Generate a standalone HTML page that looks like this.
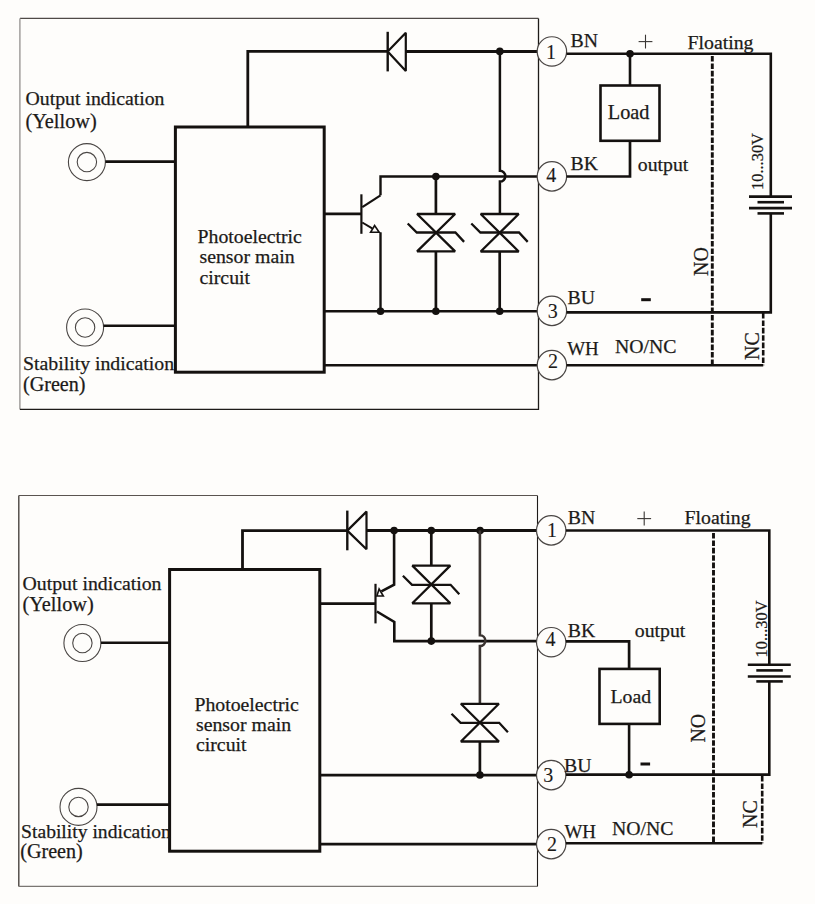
<!DOCTYPE html>
<html><head><meta charset="utf-8"><style>
html,body{margin:0;padding:0;background:#fefdfb;}
svg{display:block;}
text{font-family:"Liberation Serif",serif;fill:#1c1a18;stroke:#1c1a18;stroke-width:0.25px;}
</style></head><body>
<svg width="815" height="904" viewBox="0 0 815 904">
<rect width="815" height="904" fill="#fefdfb"/>
<path d="M19.9,18.4 L538.5,18.4" stroke="#4f4a47" stroke-width="1.2" fill="none" />
<path d="M19.9,18.4 L19.9,409.3" stroke="#9a9896" stroke-width="1.4" fill="none" />
<path d="M19.9,409.3 L538.5,409.3 L538.5,18.4" stroke="#1e1b19" stroke-width="1.3" fill="none" />
<rect x="175.4" y="127" width="148.8" height="245.2" stroke="#14110f" stroke-width="3" fill="none"/>
<path d="M247.8,127 L247.8,51.4 L387.7,51.4" stroke="#14110f" stroke-width="2.8" fill="none" />
<path d="M405.8,51.4 L537.5,51.4" stroke="#14110f" stroke-width="3" fill="none" />
<path d="M387.7,31.8 L387.7,71.4" stroke="#14110f" stroke-width="2.4" fill="none" />
<path d="M405.8,32.8 L387.7,51.4 L405.8,71 Z" stroke="#14110f" stroke-width="2.2" fill="none" stroke-linejoin="bevel"/>
<circle cx="499.8" cy="51.4" r="3.8" fill="#14110f"/>
<path d="M499.9,51.4 V170.8 A5.4,5.4 0 0 1 499.9,181.6 V214" stroke="#14110f" stroke-width="2.5" fill="none"/>
<path d="M480.7,214 L518.7,214 L480.7,251.5 L518.7,251.5 Z" stroke="#14110f" stroke-width="2.3" fill="none" stroke-linejoin="bevel"/>
<path d="M471.3,223.5 L480.4,232.5 L519.0,232.5 L527.7,241.9" stroke="#14110f" stroke-width="2.3" fill="none"/>
<path d="M499.7,251.5 L499.7,311.2" stroke="#14110f" stroke-width="2.7" fill="none" />
<circle cx="499.7" cy="311.2" r="3.8" fill="#14110f"/>
<path d="M380.5,195.3 L380.5,176.5 L537.5,176.5" stroke="#14110f" stroke-width="2.4" fill="none" />
<circle cx="435.9" cy="176.5" r="3.8" fill="#14110f"/>
<path d="M435.9,176.5 L435.9,214" stroke="#14110f" stroke-width="2.7" fill="none" />
<path d="M417.1,214 L455.1,214 L417.1,251.4 L455.1,251.4 Z" stroke="#14110f" stroke-width="2.3" fill="none" stroke-linejoin="bevel"/>
<path d="M407.70000000000005,223.5 L416.8,232.5 L455.40000000000003,232.5 L464.1,241.9" stroke="#14110f" stroke-width="2.3" fill="none"/>
<path d="M435.9,251.4 L435.9,311.2" stroke="#14110f" stroke-width="2.7" fill="none" />
<circle cx="435.9" cy="311.2" r="3.8" fill="#14110f"/>
<path d="M361.4,194.3 L361.4,233.8" stroke="#14110f" stroke-width="2.2" fill="none" />
<path d="M324.2,213.9 L361.4,213.9" stroke="#14110f" stroke-width="2.7" fill="none" />
<path d="M362.3,207.2 L380.5,195.3" stroke="#14110f" stroke-width="2.2" fill="none" />
<path d="M362.3,222.5 L372.2,228.4" stroke="#14110f" stroke-width="2.0" fill="none" />
<path d="M370.6,232.3 L379.2,232.3 L374.6,225.6 Z" stroke="#14110f" stroke-width="1.6" fill="none"/>
<path d="M380.5,232.3 L380.5,311.2" stroke="#14110f" stroke-width="2.4" fill="none" />
<circle cx="380.5" cy="311.2" r="3.8" fill="#14110f"/>
<path d="M324.2,311.2 L537.5,311.2" stroke="#14110f" stroke-width="2.6" fill="none" />
<path d="M324.2,365.2 L537.5,365.2" stroke="#14110f" stroke-width="2.6" fill="none" />
<circle cx="86.9" cy="162.1" r="18.5" stroke="#4a4644" stroke-width="1.1" fill="none"/>
<circle cx="86.9" cy="162.1" r="9.7" stroke="#4a4644" stroke-width="1.1" fill="none"/>
<path d="M105.4,161.6 L175.4,161.6" stroke="#14110f" stroke-width="2.6" fill="none" />
<circle cx="85.1" cy="327.5" r="18.5" stroke="#4a4644" stroke-width="1.1" fill="none"/>
<circle cx="85.1" cy="327.5" r="9.7" stroke="#4a4644" stroke-width="1.1" fill="none"/>
<path d="M103.6,325.7 L175.4,325.7" stroke="#14110f" stroke-width="2.6" fill="none" />
<text x="25.5" y="105" font-size="19.8" >Output indication</text>
<text x="25.5" y="127.6" font-size="20.3" >(Yellow)</text>
<text x="23" y="370" font-size="19.8" >Stability indication</text>
<text x="23" y="390.5" font-size="20.1" >(Green)</text>
<text x="197.5" y="243.1" font-size="19.8" >Photoelectric</text>
<text x="199.5" y="262.7" font-size="19.8" >sensor main</text>
<text x="199.5" y="283.9" font-size="19.8" >circuit</text>
<circle cx="551.9" cy="51.45" r="14.7" stroke="#4a4644" stroke-width="1.2" fill="#fefdfb"/>
<text x="551.1" y="58.6" font-size="20" text-anchor="middle" style="stroke-width:0.1px">1</text>
<circle cx="551.9" cy="176.4" r="14.7" stroke="#4a4644" stroke-width="1.2" fill="#fefdfb"/>
<text x="551.35" y="181.5" font-size="20" text-anchor="middle" style="stroke-width:0.1px">4</text>
<circle cx="551.9" cy="310.9" r="14.7" stroke="#4a4644" stroke-width="1.2" fill="#fefdfb"/>
<text x="552.85" y="317.7" font-size="20" text-anchor="middle" style="stroke-width:0.1px">3</text>
<circle cx="551.9" cy="365.1" r="14.7" stroke="#4a4644" stroke-width="1.2" fill="#fefdfb"/>
<text x="553.1" y="367.8" font-size="20" text-anchor="middle" style="stroke-width:0.1px">2</text>
<path d="M566.6,53.7 L770.8,53.7 L770.8,196.6" stroke="#14110f" stroke-width="2.6" fill="none" />
<circle cx="630" cy="53.7" r="3.8" fill="#14110f"/>
<path d="M630,53.7 L630,85.5" stroke="#14110f" stroke-width="2.6" fill="none" />
<rect x="600.5" y="85.5" width="59" height="55.3" stroke="#14110f" stroke-width="2.6" fill="none"/>
<path d="M630,140.8 L630,176.5 L566.6,176.5" stroke="#14110f" stroke-width="2.7" fill="none" />
<path d="M749.0,196.6 L792.0,196.6" stroke="#14110f" stroke-width="2.6" fill="none" />
<path d="M757.5,202.2 L784.0,202.2" stroke="#14110f" stroke-width="2.6" fill="none" />
<path d="M749.0,208.1 L792.0,208.1" stroke="#14110f" stroke-width="2.6" fill="none" />
<path d="M757.5,213.4 L784.0,213.4" stroke="#14110f" stroke-width="2.6" fill="none" />
<path d="M770.8,213.4 L770.8,312.4 L566.6,312.4" stroke="#14110f" stroke-width="2.6" fill="none" />
<path d="M566.6,365.2 L763.2,365.2" stroke="#14110f" stroke-width="2.6" fill="none" />
<path d="M712.3,56 V365.2" stroke="#14110f" stroke-width="2.9" stroke-dasharray="5.6 1.8" fill="none"/>
<path d="M763.2,313 V365.2" stroke="#14110f" stroke-width="2.6" stroke-dasharray="5.6 1.8" fill="none"/>
<text x="570.5" y="46.5" font-size="19.8" >BN</text>
<text x="570.5" y="169.6" font-size="19.8" >BK</text>
<text x="637.8" y="171.2" font-size="19.8" >output</text>
<text x="567.5" y="304.1" font-size="19.8" >BU</text>
<text x="567.2" y="354.6" font-size="18.9" >WH</text>
<text x="615" y="353.1" font-size="19.8" >NO/NC</text>
<text x="687.5" y="49.4" font-size="19.8" >Floating</text>
<text x="607.8" y="119.4" font-size="20.3" >Load</text>
<path d="M638.6,41.6 L652.4,41.6" stroke="#3a3634" stroke-width="1.1" fill="none" />
<path d="M645.5,34.7 L645.5,48.5" stroke="#3a3634" stroke-width="1.1" fill="none" />
<rect x="641.2" y="298.2" width="9.6" height="3" fill="#14110f"/>
<text transform="translate(763.2,190) rotate(-90)" font-size="16.4">10...30V</text>
<text transform="translate(707.7,276) rotate(-90)" font-size="20">NO</text>
<text transform="translate(759,360) rotate(-90)" font-size="20">NC</text>
<path d="M18.8,495.5 L537.2,495.5" stroke="#5a5450" stroke-width="1.2" fill="none" />
<path d="M18.8,495.5 L18.8,886.4" stroke="#4a4440" stroke-width="1.4" fill="none" />
<path d="M18.8,886.4 L537.2,886.4" stroke="#7a7672" stroke-width="1.3" fill="none" />
<path d="M537.5,495.5 L537.5,886.4" stroke="#1e1b19" stroke-width="1.1" fill="none" />
<rect x="169.6" y="569.5" width="150.2" height="281.7" stroke="#14110f" stroke-width="3" fill="none"/>
<path d="M242.5,569.5 L242.5,530.6 L347.3,530.6" stroke="#14110f" stroke-width="2.8" fill="none" />
<path d="M366.5,530.6 L537,530.6" stroke="#14110f" stroke-width="3" fill="none" />
<path d="M347.3,510.6 L347.3,550.3" stroke="#14110f" stroke-width="2.4" fill="none" />
<path d="M366.5,511.6 L347.3,530.6 L366.5,549.3 Z" stroke="#14110f" stroke-width="2.2" fill="none" stroke-linejoin="bevel"/>
<circle cx="394.1" cy="530.6" r="3.8" fill="#14110f"/>
<circle cx="431.3" cy="530.6" r="3.8" fill="#14110f"/>
<circle cx="480.1" cy="530.6" r="3.8" fill="#14110f"/>
<path d="M394.1,530.6 L394.1,584.7 L381.4,591.4" stroke="#14110f" stroke-width="2.6" fill="none" />
<path d="M376.9,596 L383.3,596 L379.1,589 Z" stroke="#14110f" stroke-width="1.6" fill="none"/>
<path d="M375.5,583.8 L375.5,623.4" stroke="#14110f" stroke-width="2.2" fill="none" />
<path d="M319.8,603.6 L375.5,603.6" stroke="#14110f" stroke-width="2.7" fill="none" />
<path d="M376.9,611.5 L394.3,621.9 L394.3,641.1 L537,641.1" stroke="#14110f" stroke-width="2.6" fill="none" />
<circle cx="431.3" cy="641.1" r="3.8" fill="#14110f"/>
<path d="M431.3,530.6 L431.3,565.6" stroke="#14110f" stroke-width="2.7" fill="none" />
<path d="M412.3,565.6 L450.3,565.6 L412.3,603.3 L450.3,603.3 Z" stroke="#14110f" stroke-width="2.3" fill="none" stroke-linejoin="bevel"/>
<path d="M402.90000000000003,575.8 L412.0,584.8 L450.6,584.8 L459.3,594.1999999999999" stroke="#14110f" stroke-width="2.3" fill="none"/>
<path d="M431.3,603.3 L431.3,641.1" stroke="#14110f" stroke-width="2.7" fill="none" />
<path d="M479.9,530.6 V635.3 A5.4,5.4 0 0 1 479.9,646.1 V703.8" stroke="#3a3330" stroke-width="2.6" fill="none"/>
<path d="M460.9,703.8 L498.9,703.8 L460.9,741.5 L498.9,741.5 Z" stroke="#14110f" stroke-width="2.3" fill="none" stroke-linejoin="bevel"/>
<path d="M451.5,713.8 L460.59999999999997,722.8 L499.2,722.8 L507.9,732.1999999999999" stroke="#14110f" stroke-width="2.3" fill="none"/>
<path d="M479.9,741.5 L479.9,775" stroke="#14110f" stroke-width="2.7" fill="none" />
<circle cx="479.9" cy="775" r="3.8" fill="#14110f"/>
<path d="M319.8,775.1 L537,775.1" stroke="#14110f" stroke-width="2.6" fill="none" />
<path d="M319.8,844.1 L537,844.1" stroke="#14110f" stroke-width="2.6" fill="none" />
<circle cx="82.4" cy="643" r="18.5" stroke="#4a4644" stroke-width="1.1" fill="none"/>
<circle cx="82.4" cy="643" r="9.7" stroke="#4a4644" stroke-width="1.1" fill="none"/>
<path d="M100.9,642.8 L169.6,642.8" stroke="#14110f" stroke-width="2.6" fill="none" />
<circle cx="78.5" cy="806.9" r="18.5" stroke="#4a4644" stroke-width="1.1" fill="none"/>
<circle cx="78.5" cy="806.9" r="9.7" stroke="#4a4644" stroke-width="1.1" fill="none"/>
<path d="M97,804.6 L169.6,804.6" stroke="#14110f" stroke-width="2.6" fill="none" />
<text x="22.5" y="589.8" font-size="19.8" >Output indication</text>
<text x="22.5" y="611.3" font-size="20.3" >(Yellow)</text>
<text x="21.1" y="837.8" font-size="19.6" >Stability indication</text>
<text x="20.3" y="857.5" font-size="20.1" >(Green)</text>
<text x="194.4" y="710.9" font-size="19.8" >Photoelectric</text>
<text x="196" y="730.8" font-size="19.8" >sensor main</text>
<text x="196" y="751.3" font-size="19.8" >circuit</text>
<circle cx="551.2" cy="530.4" r="14.7" stroke="#4a4644" stroke-width="1.2" fill="#fefdfb"/>
<text x="552.0" y="537.2" font-size="20" text-anchor="middle" style="stroke-width:0.1px">1</text>
<circle cx="551.2" cy="642.2" r="14.7" stroke="#4a4644" stroke-width="1.2" fill="#fefdfb"/>
<text x="550.4" y="645.8" font-size="20" text-anchor="middle" style="stroke-width:0.1px">4</text>
<circle cx="551.2" cy="775.1" r="14.7" stroke="#4a4644" stroke-width="1.2" fill="#fefdfb"/>
<text x="548.2" y="782.2" font-size="20" text-anchor="middle" style="stroke-width:0.1px">3</text>
<circle cx="551.2" cy="844.1" r="14.7" stroke="#4a4644" stroke-width="1.2" fill="#fefdfb"/>
<text x="552.1" y="850.7" font-size="20" text-anchor="middle" style="stroke-width:0.1px">2</text>
<path d="M565.9,530.5 L769.3,530.5 L769.3,664.7" stroke="#14110f" stroke-width="2.6" fill="none" />
<path d="M747.8,664.7 L790.8,664.7" stroke="#14110f" stroke-width="2.6" fill="none" />
<path d="M756.3,670.4 L782.8,670.4" stroke="#14110f" stroke-width="2.6" fill="none" />
<path d="M747.8,676.5 L790.8,676.5" stroke="#14110f" stroke-width="2.6" fill="none" />
<path d="M756.3,681.4 L782.8,681.4" stroke="#14110f" stroke-width="2.6" fill="none" />
<path d="M769.3,681.4 L769.3,774.6 L565.9,774.6" stroke="#14110f" stroke-width="2.6" fill="none" />
<path d="M565.9,641.3 L629.1,641.3 L629.1,668.9" stroke="#14110f" stroke-width="2.7" fill="none" />
<rect x="599.5" y="668.9" width="60.2" height="55" stroke="#14110f" stroke-width="2.6" fill="none"/>
<path d="M629.1,723.9 L629.1,774.6" stroke="#14110f" stroke-width="2.6" fill="none" />
<circle cx="629.1" cy="774.8" r="3.8" fill="#14110f"/>
<path d="M565.9,843.2 L762.2,843.2" stroke="#14110f" stroke-width="2.6" fill="none" />
<path d="M713.5,533 V843.2" stroke="#14110f" stroke-width="2.9" stroke-dasharray="5.6 1.8" fill="none"/>
<path d="M762.2,776 V843.2" stroke="#14110f" stroke-width="2.6" stroke-dasharray="5.6 1.8" fill="none"/>
<text x="567.8" y="524.4" font-size="19.8" >BN</text>
<text x="567.8" y="637.2" font-size="19.8" >BK</text>
<text x="634.8" y="637.2" font-size="19.8" >output</text>
<text x="564.1" y="772.3" font-size="19.8" >BU</text>
<text x="564.5" y="837.9" font-size="18.9" >WH</text>
<text x="612" y="835.2" font-size="19.8" >NO/NC</text>
<text x="684.6" y="524.4" font-size="19.8" >Floating</text>
<text x="610.5" y="702.8" font-size="19.8" >Load</text>
<path d="M637.3,518.6 L651.1,518.6" stroke="#3a3634" stroke-width="1.1" fill="none" />
<path d="M644.2,511.6 L644.2,525.6" stroke="#3a3634" stroke-width="1.1" fill="none" />
<rect x="640.5" y="762.5" width="9.6" height="3" fill="#14110f"/>
<text transform="translate(767,657.4) rotate(-90)" font-size="16.4">10...30V</text>
<text transform="translate(705.3,742.6) rotate(-90)" font-size="20">NO</text>
<text transform="translate(757,828) rotate(-90)" font-size="20">NC</text>
</svg>
</body></html>
